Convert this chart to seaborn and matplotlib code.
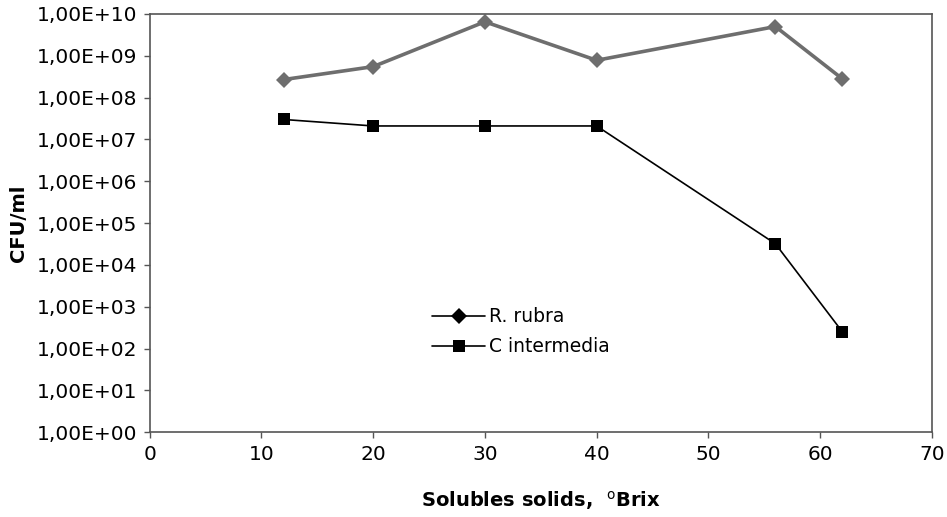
import numpy as np
import pandas as pd
import matplotlib
matplotlib.use("Agg")
import matplotlib.pyplot as plt
import seaborn as sns
from matplotlib.lines import Line2D
from matplotlib.ticker import FixedLocator, FuncFormatter, NullLocator

# data
brix = [12, 20, 30, 40, 56, 62]
r_rubra = [2.7e8, 5.5e8, 6.5e9, 7.8e8, 5.0e9, 2.8e8]
c_intermedia = [3.0e7, 2.1e7, 2.1e7, 2.1e7, 3.2e4, 2.5e2]

df = pd.DataFrame({
    "Brix": brix * 2,
    "CFU": r_rubra + c_intermedia,
    "Species": ["R. rubra"] * len(brix) + ["C intermedia"] * len(brix),
})

sns.set_style("white")
plt.rcParams["font.family"] = ["DejaVu Sans"]
plt.rcParams["text.color"] = "black"
plt.rcParams["axes.labelcolor"] = "black"
plt.rcParams["xtick.color"] = "black"
plt.rcParams["ytick.color"] = "black"

fig = plt.figure(figsize=(9.47, 5.17), dpi=100)
ax = fig.add_axes([0.158, 0.164, 0.826, 0.809])

sns.lineplot(data=df, x="Brix", y="CFU", hue="Species", style="Species",
             markers={"R. rubra": "D", "C intermedia": "s"}, dashes=False,
             palette={"R. rubra": "#6e6e6e", "C intermedia": "#000000"},
             ax=ax, legend=False)
for line, lw, ms in zip(ax.lines, [2.6, 1.2], [8, 9]):
    line.set_linewidth(lw)
    line.set_markersize(ms)
    line.set_markeredgewidth(0)

ax.set_yscale("log")
ax.set_ylim(1, 1e10)
ax.set_xlim(0, 70)
ax.yaxis.set_major_locator(FixedLocator([10.0 ** k for k in range(11)]))
ax.yaxis.set_minor_locator(NullLocator())
ax.yaxis.set_major_formatter(FuncFormatter(lambda v, p: "1,00E+%02d" % int(round(np.log10(v)))))
ax.set_xticks(range(0, 71, 10))

for s in ax.spines.values():
    s.set_color("#555555")
    s.set_linewidth(1.2)
ax.tick_params(axis="both", direction="out", length=4, width=1, color="#555555",
               labelcolor="black", labelsize=14.5, pad=5, left=True, bottom=True)

ax.set_ylabel("CFU/ml", fontsize=14, fontweight="bold", labelpad=6)
ax.set_xlabel("Solubles solids,  $^{\\mathrm{o}}$Brix", fontsize=14, fontweight="bold", labelpad=18)

# legend drawn by hand like the original (no frame)
handles = [
    Line2D([], [], color="#000000", lw=1.2, marker="D", markersize=8, markeredgewidth=0),
    Line2D([], [], color="#000000", lw=1.2, marker="s", markersize=9, markeredgewidth=0),
]
ax.legend(handles, ["R. rubra", "C intermedia"], loc="center left",
          bbox_to_anchor=(0.34, 0.24), frameon=False, fontsize=13.5,
          handlelength=2.8, handletextpad=0.2, labelspacing=0.6)

fig.savefig("out.png", dpi=100)
